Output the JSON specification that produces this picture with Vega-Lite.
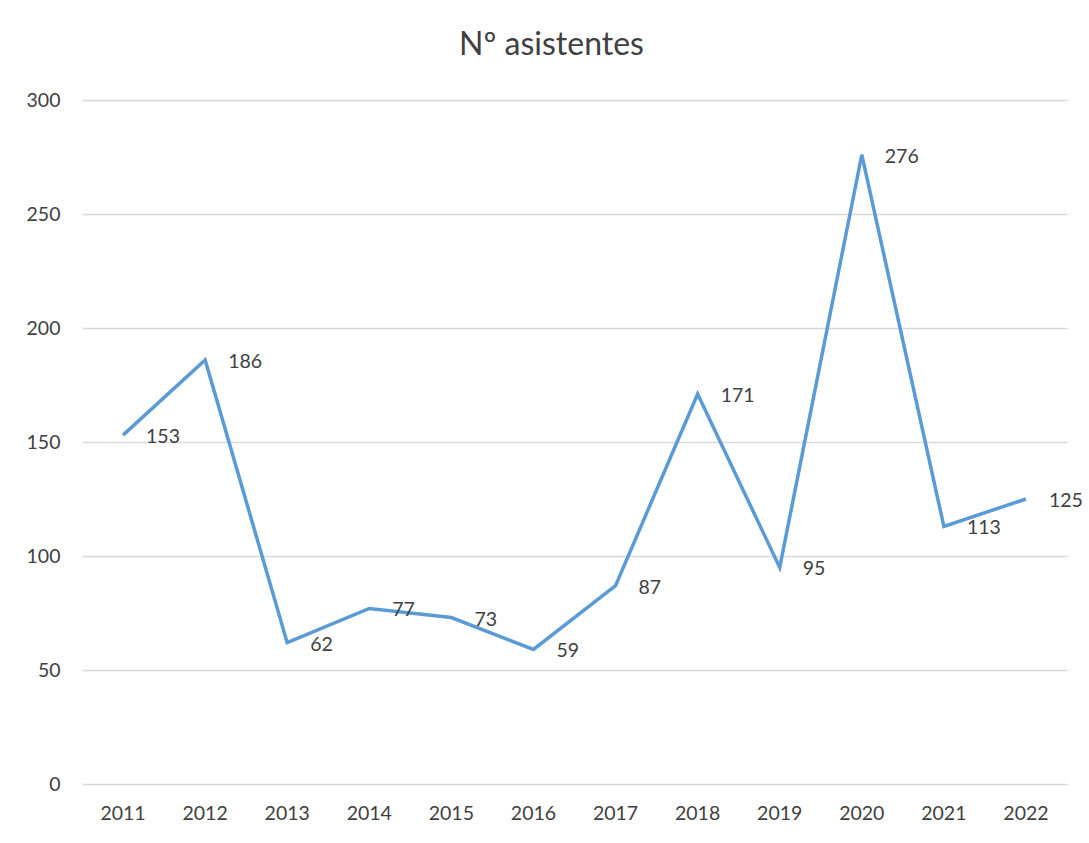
{
  "$schema": "https://vega.github.io/schema/vega-lite/v6.json",
  "autosize": {"type": "none"},
  "width": 985,
  "height": 684,
  "padding": {"left": 82, "top": 100, "right": 22, "bottom": 59},
  "background": "white",
  "title": {
    "text": "Nº asistentes",
    "font": "Lato",
    "fontSize": 32,
    "fontWeight": "normal",
    "color": "#404040",
    "anchor": "middle",
    "dx": -23,
    "offset": 28
  },
  "config": {
    "view": {"stroke": null},
    "font": "Lato"
  },
  "data": {
    "values": [
      {"year": "2011", "n": 153},
      {"year": "2012", "n": 186},
      {"year": "2013", "n": 62},
      {"year": "2014", "n": 77},
      {"year": "2015", "n": 73},
      {"year": "2016", "n": 59},
      {"year": "2017", "n": 87},
      {"year": "2018", "n": 171},
      {"year": "2019", "n": 95},
      {"year": "2020", "n": 276},
      {"year": "2021", "n": 113},
      {"year": "2022", "n": 125}
    ]
  },
  "encoding": {
    "x": {
      "field": "year",
      "type": "ordinal",
      "scale": {"type": "band", "paddingInner": 0, "paddingOuter": 0},
      "axis": {
        "title": null,
        "labelAngle": 0,
        "domain": false,
        "ticks": false,
        "labelFont": "Lato",
        "labelFontSize": 19.5,
        "labelColor": "#404040",
        "labelPadding": 20
      }
    },
    "y": {
      "field": "n",
      "type": "quantitative",
      "scale": {"domain": [0, 300], "nice": false},
      "axis": {
        "title": null,
        "values": [0, 50, 100, 150, 200, 250, 300],
        "domain": false,
        "ticks": false,
        "gridColor": "#d9d9d9",
        "gridWidth": 1.5,
        "labelFont": "Lato",
        "labelFontSize": 19.5,
        "labelColor": "#404040",
        "labelPadding": 22
      }
    }
  },
  "layer": [
    {
      "mark": {"type": "line", "color": "#5B9BD5", "strokeWidth": 3.5, "strokeJoin": "miter"}
    },
    {
      "mark": {"type": "text", "align": "left", "baseline": "middle", "dx": 23, "dy": 2, "fontSize": 19.5, "color": "#404040", "font": "Lato"},
      "encoding": {"text": {"field": "n", "type": "quantitative"}}
    }
  ]
}
